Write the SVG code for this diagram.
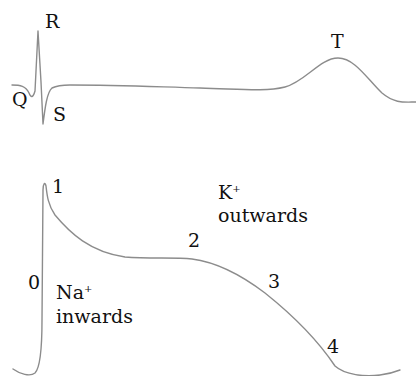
<svg xmlns="http://www.w3.org/2000/svg" width="416" height="376" viewBox="0 0 416 376">
<style>
.trace{fill:none;stroke:#8c8c8c;stroke-width:1.4;stroke-linejoin:round;stroke-linecap:round}
text{font-family:"DejaVu Serif","Liberation Serif",serif;font-size:19px;fill:#111}
.sup{font-size:10px}
</style>
<rect width="416" height="376" fill="#fff"/>
<g id="connectors">
<path id="ecg" class="trace" d="M12,85 C20,85 26,86 29,93 C31,98 33,98 35,91 L38,31 L41,82 L43,124 C45,108 47,92 52,88 C56,86 62,85 70,85 C120,85 160,87 200,88 C240,89 265,92 285,87 C305,82 320,58 338,58 C355,58 368,80 382,93 C395,104 405,102 416,102"/>
<path id="ap" class="trace" d="M13,369 C20,374 30,377 35,373 C40,368 42,350 42,320 L43,190 C43,184 45,181 46,186 C47,195 48,205 55,215 C70,233 90,252 125,257 C150,259 175,257 192,259 C215,262 240,274 265,293 C290,313 315,336 335,366 C345,375 365,377 380,375 C390,374 395,372 400,370"/>
</g>
<g id="R"><text x="45" y="28">R</text></g>
<g id="Q"><text x="12" y="106">Q</text></g>
<g id="S"><text x="53" y="121">S</text></g>
<g id="T"><text x="331" y="48">T</text></g>
<g id="p0"><text x="28" y="289">0</text></g>
<g id="p1"><text x="52" y="193">1</text></g>
<g id="p2"><text x="188" y="247">2</text></g>
<g id="p3"><text x="268" y="288">3</text></g>
<g id="p4"><text x="327" y="353">4</text></g>
<g id="na"><text x="56" y="299">Na<tspan class="sup" dy="-7">+</tspan></text><text x="56" y="323">inwards</text></g>
<g id="k"><text x="218" y="199">K<tspan class="sup" dy="-7">+</tspan></text><text x="218" y="222">outwards</text></g>
</svg>
